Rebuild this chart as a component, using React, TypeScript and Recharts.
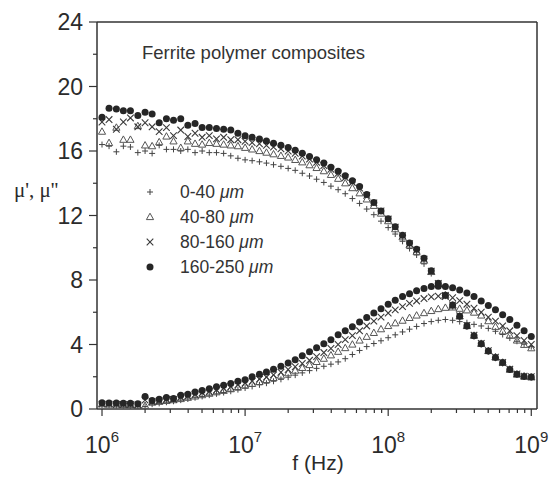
import React from 'react';
import { ScatterChart, Scatter, XAxis, YAxis, ReferenceLine } from 'recharts';

// measurement frequencies (Hz), 20 points per decade
const freqs = [
  1.0e6, 1.12e6, 1.26e6, 1.41e6, 1.58e6, 1.78e6, 2.0e6, 2.24e6, 2.51e6, 2.82e6,
  3.16e6, 3.55e6, 3.98e6, 4.47e6, 5.01e6, 5.62e6, 6.31e6, 7.08e6, 7.94e6, 8.91e6,
  1.0e7, 1.12e7, 1.26e7, 1.41e7, 1.58e7, 1.78e7, 2.0e7, 2.24e7, 2.51e7, 2.82e7,
  3.16e7, 3.55e7, 3.98e7, 4.47e7, 5.01e7, 5.62e7, 6.31e7, 7.08e7, 7.94e7, 8.91e7,
  1.0e8, 1.12e8, 1.26e8, 1.41e8, 1.58e8, 1.78e8, 2.0e8, 2.24e8, 2.51e8, 2.82e8,
  3.16e8, 3.55e8, 3.98e8, 4.47e8, 5.01e8, 5.62e8, 6.31e8, 7.08e8, 7.94e8, 8.91e8,
  1.0e9,
];

// mu' (real part)
const real0_40 = [
  16.4, 16.3, 15.95, 16.3, 16.25, 15.9, 16.0, 15.85, 16.35, 16.1,
  16.1, 16.0, 16.1, 15.9, 16.0, 15.9, 15.9, 15.85, 15.7, 15.55,
  15.45, 15.4, 15.33, 15.25, 15.15, 15.05, 14.92, 14.8, 14.62, 14.45,
  14.25, 14.05, 13.82, 13.6, 13.35, 13.05, 12.75, 12.4, 12.05, 11.65,
  11.25, 10.85, 10.4, 9.95, 9.55, 9.0, 8.4, 7.7, 7.0, 6.35,
  5.7, 5.1, 4.5, 4.0, 3.55, 3.15, 2.82, 2.42, 2.12, 2.0, 1.95,
];
const real40_80 = [
  17.2, 16.5, 17.45, 16.7, 16.7, 17.55, 16.35, 16.3, 16.55, 16.9,
  16.6, 16.2, 16.6, 16.45, 16.4, 16.5, 16.45, 16.4, 16.35, 16.3,
  16.2, 16.1, 16.0, 15.9, 15.8, 15.7, 15.6, 15.45, 15.3, 15.12,
  14.95, 14.75, 14.52, 14.28, 14.0, 13.7, 13.38, 13.0, 12.6, 12.12,
  11.65, 11.15, 10.65, 10.15, 9.75, 9.2, 8.5, 7.75, 7.05, 6.42,
  5.75, 5.15, 4.55, 4.05, 3.6, 3.22, 2.88, 2.45, 2.15, 2.03, 1.97,
];
const real80_160 = [
  17.8, 17.95, 17.35, 17.8, 18.05, 17.5, 17.75, 17.5, 17.2, 17.45,
  16.95, 17.3, 16.9, 17.1, 16.85, 16.95, 16.75, 16.85, 16.7, 16.7,
  16.6, 16.52, 16.45, 16.35, 16.25, 16.13, 16.0, 15.85, 15.68, 15.5,
  15.3, 15.1, 14.87, 14.62, 14.35, 14.05, 13.7, 13.25, 12.78, 12.28,
  11.78, 11.28, 10.75, 10.25, 9.85, 9.3, 8.55, 7.78, 7.05, 6.45,
  5.78, 5.18, 4.58, 4.07, 3.62, 3.22, 2.88, 2.47, 2.17, 2.03, 2.0,
];
const real160_250 = [
  18.1, 18.65, 18.6, 18.5, 18.5, 18.2, 18.4, 18.3, 17.75, 18.0,
  17.9, 18.0, 17.6, 17.7, 17.45, 17.45, 17.4, 17.35, 17.3, 17.1,
  16.95, 16.85, 16.75, 16.62, 16.48, 16.35, 16.22, 16.04, 15.86, 15.66,
  15.46, 15.25, 15.0, 14.75, 14.47, 14.15, 13.8, 13.3, 12.8, 12.28,
  11.8, 11.3, 10.78, 10.3, 9.9, 9.35, 8.58, 7.8, 7.05, 6.45,
  5.75, 5.15, 4.55, 4.05, 3.6, 3.2, 2.88, 2.45, 2.15, 2.02, 1.98,
];

// mu'' (imaginary part)
const imag0_40 = [
  0.25, 0.25, 0.22, 0.22, 0.2, 0.18, 0.15, 0.3, 0.35, 0.42,
  0.48, 0.55, 0.62, 0.7, 0.78, 0.86, 0.94, 1.02, 1.1, 1.2,
  1.3, 1.4, 1.5, 1.6, 1.72, 1.84, 1.97, 2.1, 2.24, 2.38,
  2.52, 2.65, 2.78, 2.92, 3.12, 3.38, 3.63, 3.87, 4.06, 4.23,
  4.42, 4.6, 4.78, 4.95, 5.12, 5.3, 5.42, 5.5, 5.55, 5.5,
  5.42, 5.35, 5.25, 5.15, 5.0, 4.82, 4.62, 4.4, 4.2, 4.02, 3.87,
];
const imag40_80 = [
  0.3, 0.28, 0.28, 0.26, 0.25, 0.22, 0.2, 0.4, 0.45, 0.5,
  0.55, 0.62, 0.7, 0.78, 0.86, 0.95, 1.04, 1.13, 1.23, 1.33,
  1.45, 1.56, 1.68, 1.8, 1.93, 2.07, 2.22, 2.38, 2.55, 2.73,
  2.92, 3.12, 3.33, 3.55, 3.78, 4.0, 4.25, 4.48, 4.72, 4.95,
  5.15, 5.32, 5.48, 5.65, 5.8, 5.95, 6.08, 6.2, 6.28, 6.3,
  6.22, 6.12, 5.98, 5.8, 5.45, 5.1, 4.82, 4.55, 4.25, 3.98, 3.77,
];
const imag80_160 = [
  0.3, 0.3, 0.28, 0.28, 0.27, 0.25, 0.55, 0.45, 0.5, 0.58,
  0.6, 0.72, 0.8, 0.9, 1.0, 1.08, 1.18, 1.28, 1.38, 1.5,
  1.6, 1.72, 1.85, 1.98, 2.12, 2.28, 2.45, 2.62, 2.82, 3.02,
  3.25, 3.5, 3.75, 4.0, 4.3, 4.55, 4.85, 5.15, 5.45, 5.7,
  5.95, 6.15, 6.35, 6.55, 6.7, 6.85, 6.95, 7.0, 6.98, 6.9,
  6.72, 6.5, 6.25, 6.0, 5.7, 5.45, 5.15, 4.85, 4.55, 4.25, 4.0,
];
const imag160_250 = [
  0.38, 0.37, 0.37, 0.36, 0.35, 0.32, 0.78, 0.52, 0.6, 0.72,
  0.65, 0.85, 0.92, 1.05, 1.15, 1.25, 1.38, 1.48, 1.58, 1.72,
  1.82, 2.0, 2.15, 2.3, 2.47, 2.65, 2.85, 3.05, 3.3, 3.55,
  3.8, 4.05, 4.3, 4.6, 4.85, 5.1, 5.4, 5.68, 5.95, 6.22,
  6.5, 6.75, 6.98, 7.15, 7.33, 7.48, 7.6, 7.62, 7.6, 7.52,
  7.38, 7.2, 6.98, 6.7, 6.42, 6.15, 5.85, 5.55, 5.2, 4.85, 4.5,
];

const legendLabels = ['0-40', '40-80', '80-160', '160-250'];
const xTicks = [
  1e6, 2e6, 3e6, 4e6, 5e6, 6e6, 7e6, 8e6, 9e6,
  1e7, 2e7, 3e7, 4e7, 5e7, 6e7, 7e7, 8e7, 9e7,
  1e8, 2e8, 3e8, 4e8, 5e8, 6e8, 7e8, 8e8, 9e8,
  1e9,
];
const yTicks = [0, 2, 4, 6, 8, 10, 12, 14, 16, 18, 20, 22, 24];

const SANS = '"Liberation Sans", Arial, Helvetica, sans-serif';
const INK = '#2b2b2b';

const toPoints = (re: number[], im: number[]) => [
  ...freqs.map((f, i) => ({ f, v: re[i] })),
  ...freqs.map((f, i) => ({ f, v: im[i] })),
];

const PlusMark = ({ cx, cy }: any) => (
  <path d={`M${cx - 3},${cy}H${cx + 3}M${cx},${cy - 3}V${cy + 3}`} stroke="#444" strokeWidth={1} fill="none" />
);
const TriMark = ({ cx, cy }: any) => (
  <path
    d={`M${cx},${cy - 3.8}L${cx + 3.6},${cy + 2.6}L${cx - 3.6},${cy + 2.6}Z`}
    stroke="#555"
    strokeWidth={1}
    fill="none"
  />
);
const CrossMark = ({ cx, cy }: any) => (
  <path
    d={`M${cx - 3.3},${cy - 3.3}L${cx + 3.3},${cy + 3.3}M${cx - 3.3},${cy + 3.3}L${cx + 3.3},${cy - 3.3}`}
    stroke="#3a3a3a"
    strokeWidth={1.1}
    fill="none"
  />
);
const DotMark = ({ cx, cy }: any) => <circle cx={cx} cy={cy} r={3.5} fill="#262626" />;

const series = [
  { name: legendLabels[0], re: real0_40, im: imag0_40, Mark: PlusMark },
  { name: legendLabels[1], re: real40_80, im: imag40_80, Mark: TriMark },
  { name: legendLabels[2], re: real80_160, im: imag80_160, Mark: CrossMark },
  { name: legendLabels[3], re: real160_250, im: imag160_250, Mark: DotMark },
];

const XTick = ({ x, y, payload }: any) => {
  const lg = Math.log10(payload.value);
  const exp = Math.round(lg);
  const major = Math.abs(lg - exp) < 1e-6;
  return (
    <g>
      <line x1={x} x2={x} y1={y} y2={y + (major ? 7 : 4)} stroke="#333" strokeWidth={1.2} />
      {major && (
        <text x={x} y={y + 44} textAnchor="middle" fontSize={23} fill={INK} fontFamily={SANS}>
          10
          <tspan dy={-11} fontSize={15}>
            {exp}
          </tspan>
        </text>
      )}
    </g>
  );
};

const YTick = ({ x, y, payload }: any) => {
  const major = payload.value % 4 === 0;
  return (
    <g>
      <line x1={x - (major ? 8 : 4)} x2={x} y1={y} y2={y} stroke="#333" strokeWidth={1.2} />
      {major && (
        <text x={x - 14} y={y + 8} textAnchor="end" fontSize={23} fill={INK} fontFamily={SANS}>
          {payload.value}
        </text>
      )}
    </g>
  );
};

export default function App() {
  const domainX: [number, number] = [922571, 1.0965e9];
  return (
    <div style={{ position: 'absolute', left: 0, top: 0, width: 556, height: 481, background: '#fff' }}>
      <ScatterChart width={556} height={481} margin={{ top: 22, right: 19, bottom: 0, left: 0 }}>
        <XAxis
          dataKey="f"
          type="number"
          scale="log"
          domain={domainX}
          allowDataOverflow
          ticks={xTicks}
          interval={0}
          height={72}
          tickSize={0}
          tickMargin={0}
          tickLine={false}
          tick={<XTick />}
          axisLine={{ stroke: '#333', strokeWidth: 1.5 }}
        />
        <YAxis
          dataKey="v"
          type="number"
          domain={[0, 24]}
          allowDataOverflow
          ticks={yTicks}
          interval={0}
          width={97}
          tickSize={0}
          tickMargin={0}
          tickLine={false}
          tick={<YTick />}
          axisLine={{ stroke: '#333', strokeWidth: 1.5 }}
        />
        {/* frame: top and right borders */}
        <ReferenceLine y={24} stroke="#333" strokeWidth={1.5} />
        <ReferenceLine x={domainX[1]} stroke="#333" strokeWidth={1.5} />
        {series.map((s) => (
          <Scatter
            key={s.name}
            name={s.name}
            data={toPoints(s.re, s.im)}
            isAnimationActive={false}
            shape={(p: any) => <s.Mark cx={p.cx} cy={p.cy} />}
          />
        ))}
      </ScatterChart>
      <svg
        width={556}
        height={481}
        style={{ position: 'absolute', left: 0, top: 0, pointerEvents: 'none' }}
      >
        <text x={142} y={59} fontSize={18.5} fill="#333" fontFamily={SANS}>
          Ferrite polymer composites
        </text>
        <text x={14} y={197} fontSize={21} fill={INK} fontFamily='"Liberation Serif", "Times New Roman", serif'>
          {"\u03bc', \u03bc''"}
        </text>
        <text x={318} y={470} textAnchor="middle" fontSize={21} fill={INK} fontFamily={SANS}>
          f (Hz)
        </text>
        {series.map((s, i) => (
          <g key={s.name}>
            <s.Mark cx={150} cy={192 + i * 25} />
            <text x={180} y={198 + i * 25} fontSize={17.5} fill="#333" fontFamily={SANS}>
              {s.name + ' '}
              <tspan fontStyle="italic">{'\u03bcm'}</tspan>
            </text>
          </g>
        ))}
      </svg>
    </div>
  );
}
